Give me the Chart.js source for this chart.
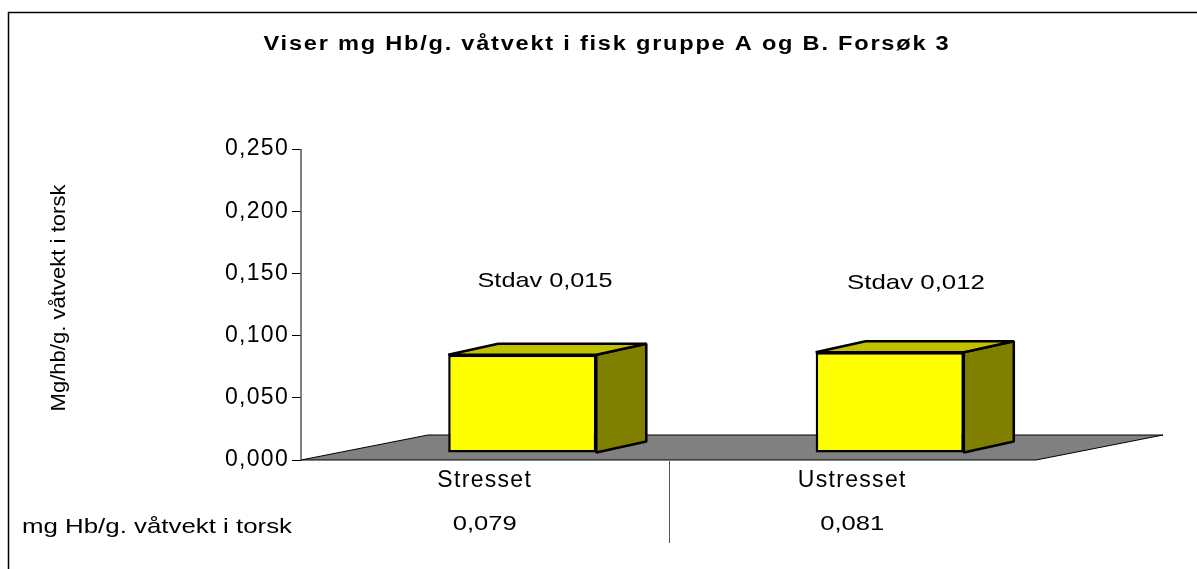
<!DOCTYPE html>
<html><head><meta charset="utf-8">
<style>html,body{margin:0;padding:0;background:#fff}#w{position:relative;width:1197px;height:569px}canvas{display:block}</style>
<script src="https://cdn.jsdelivr.net/npm/chart.js@4/dist/chart.umd.min.js"></script>
</head><body><div id="w"><canvas id="c" width="1197" height="569"></canvas></div>
<script>
const categories = ["Stresset", "Ustresset"];
const seriesName = "mg Hb/g. våtvekt i torsk";
const values = [0.079, 0.081];
const tableLabels = ["0,079", "0,081"];
const notes = ["Stdav 0,015", "Stdav 0,012"];
const yTicks = [0, 0.05, 0.1, 0.15, 0.2, 0.25];
const titleText = "Viser mg Hb/g. våtvekt i fisk gruppe A og B. Forsøk 3";
const yTitle = "Mg/hb/g. våtvekt i torsk";

const FONT = '"Liberation Sans", Arial, sans-serif';
const depth = {dx: 50, dy: 11};
const shift = {dx: 37.5, dy: -7};
const floorD = {dx: 127, dy: 25};

// Draws centred text stretched horizontally to a given width.
function wideText(ctx, text, cx, cy, font, spacing, width, rotate) {
  ctx.save();
  ctx.font = font;
  ctx.letterSpacing = spacing + 'px';
  ctx.textAlign = 'center';
  ctx.textBaseline = 'middle';
  const w = ctx.measureText(text).width;
  ctx.translate(cx, cy);
  if (rotate) ctx.rotate(-Math.PI / 2);
  ctx.scale(width / w, 1);
  ctx.fillText(text, 0, 0);
  ctx.restore();
}

const scene = {
  id: 'scene',
  beforeDraw(chart) { chart.ctx.letterSpacing = '1.3px'; },
  beforeDatasetsDraw(chart) {
    const {ctx, chartArea: a} = chart;
    ctx.save();
    ctx.lineJoin = 'bevel';
    ctx.beginPath();
    ctx.moveTo(a.left, a.bottom);
    ctx.lineTo(a.right, a.bottom);
    ctx.lineTo(a.right + floorD.dx, a.bottom - floorD.dy);
    ctx.lineTo(a.left + floorD.dx, a.bottom - floorD.dy);
    ctx.closePath();
    ctx.fillStyle = '#808080';
    ctx.fill();
    ctx.strokeStyle = '#000';
    ctx.lineWidth = 1;
    ctx.stroke();
    // box sides follow the scale-derived bar geometry
    chart.getDatasetMeta(0).data.forEach(b => {
      const l = b.x - b.width / 2 + shift.dx, r = b.x + b.width / 2 + shift.dx;
      const t = b.y + shift.dy, bt = b.base + shift.dy;
      ctx.lineWidth = 2.5;
      ctx.strokeStyle = '#000';
      ctx.beginPath();
      ctx.moveTo(r, t); ctx.lineTo(r + depth.dx, t - depth.dy);
      ctx.lineTo(r + depth.dx, bt - depth.dy); ctx.lineTo(r, bt); ctx.closePath();
      ctx.fillStyle = '#808000'; ctx.fill(); ctx.stroke();
      ctx.beginPath();
      ctx.moveTo(l, t); ctx.lineTo(l + depth.dx, t - depth.dy);
      ctx.lineTo(r + depth.dx, t - depth.dy); ctx.lineTo(r, t); ctx.closePath();
      ctx.fillStyle = '#c0c000'; ctx.fill(); ctx.stroke();
    });
    ctx.translate(shift.dx, shift.dy);
  },
  afterDatasetsDraw(chart) {
    const {ctx, chartArea: a, scales: {x}} = chart;
    ctx.restore();
    ctx.save();
    ctx.letterSpacing = '0px';
    // outer frame
    ctx.strokeStyle = '#000'; ctx.lineWidth = 1.5;
    ctx.beginPath();
    ctx.moveTo(8.5, 569); ctx.lineTo(8.5, 12.5); ctx.lineTo(1197, 12.5);
    ctx.stroke();
    ctx.lineWidth = 1;
    // data table separator
    ctx.strokeStyle = '#555';
    const m = Math.round((x.getPixelForValue(0) + x.getPixelForValue(1)) / 2) + 0.5;
    ctx.beginPath(); ctx.moveTo(m, a.bottom + 1); ctx.lineTo(m, 543); ctx.stroke();
    // axis line
    ctx.lineWidth = 1.5;
    ctx.beginPath(); ctx.moveTo(a.left, a.top); ctx.lineTo(a.left, a.bottom); ctx.stroke();
    ctx.fillStyle = '#000';
    const plain = '21px ' + FONT;
    wideText(ctx, titleText, 607, 44, 'bold 20px ' + FONT, 1.5, 687, false);
    wideText(ctx, seriesName, 157, 527, plain, 0, 270, false);
    values.forEach((v, i) => {
      wideText(ctx, tableLabels[i], x.getPixelForValue(i), 524, plain, 0, 64, false);
    });
    wideText(ctx, notes[0], 545, 281, plain, 0, 135, false);
    wideText(ctx, notes[1], 916, 283, plain, 0, 138, false);
    wideText(ctx, yTitle, 59, 298, plain, 0, 227, true);
    ctx.restore();
  }
};

new Chart(document.getElementById('c'), {
  type: 'bar',
  data: {labels: categories, datasets: [{label: seriesName, data: values,
    backgroundColor: '#ffff00', borderColor: '#000', borderWidth: 2.5, borderSkipped: false,
    categoryPercentage: 1, barPercentage: 0.403}]},
  plugins: [scene],
  options: {
    responsive: false, animation: false, events: [],
    layout: {padding: {left: 0, right: 161, top: 149, bottom: 0}},
    plugins: {legend: {display: false}, tooltip: {enabled: false}, title: {display: false}},
    scales: {
      x: {
        grid: {display: false, drawTicks: false}, border: {display: false},
        afterFit(s) { s.height = 109; },
        ticks: {padding: 7, color: '#000', font: {family: FONT, size: 23}}
      },
      y: {
        min: 0, max: 0.25,
        afterBuildTicks(s) { s.ticks = yTicks.map(v => ({value: v})); },
        afterFit(s) { s.width = 301; },
        grid: {drawOnChartArea: false, drawTicks: true, tickLength: 9, color: '#000'},
        border: {display: false},
        ticks: {padding: 3, color: '#000', font: {family: FONT, size: 23},
          callback: v => v.toFixed(3).replace('.', ',')}
      }
    }
  }
});
</script></body></html>
